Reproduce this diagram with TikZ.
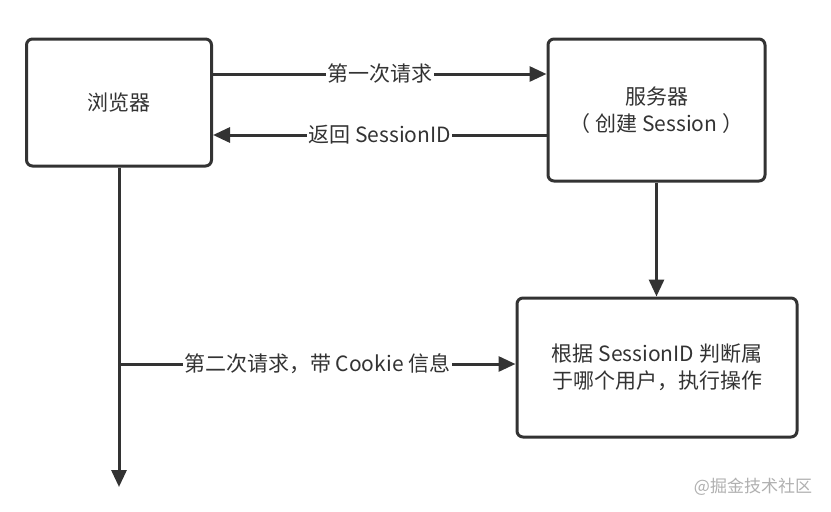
\documentclass[tikz,border=0pt]{standalone}
\usepackage{fontspec}
\newfontfamily\cjk{Noto Sans CJK SC}
\usetikzlibrary{arrows.meta}
\definecolor{ink}{HTML}{333333}
\definecolor{wm}{HTML}{B0B0B0}
\tikzset{
  box/.style={draw=ink, line width=3pt, rounded corners=6pt, fill=white, align=center,
    font=\cjk\fontsize{21pt}{27.5pt}\selectfont, text=ink, inner sep=0pt},
  lbl/.style={fill=white, inner sep=1.5pt, font=\cjk\fontsize{21pt}{27pt}\selectfont, text=ink},
  arr/.style={draw=ink, line width=3pt, -{Triangle[length=17pt,width=15pt]}},
  ln/.style={draw=ink, line width=3pt}
}
\begin{document}
\begin{tikzpicture}[x=1pt,y=-1pt]
\useasboundingbox[fill=white] (0,0) rectangle (831,512);
\node[box, minimum width=185pt, minimum height=127pt] (browser) at (119,102.5) {浏览器};
\node[box, minimum width=217pt, minimum height=142pt] (server) at (656.5,110) {服务器\\（ 创建 Session ）};
\node[box, minimum width=280pt, minimum height=139pt] (result) at (657,367.5) {根据 SessionID 判断属\\于哪个用户，执行操作};
\coordinate (bend) at (119,487);
\coordinate (fork) at (119,364);
\draw[arr] (browser.east |- 0,74) -- node[lbl] {第一次请求} (server.west |- 0,74);
\draw[arr] (server.west |- 0,135) -- node[lbl] {返回 SessionID} (browser.east |- 0,135);
\draw[arr] (server.south) -- (server.south |- result.north);
\draw[arr] (browser.south) -- (bend);
\draw[arr] (fork) -- node[lbl] {第二次请求，带 Cookie 信息} (result.west |- fork);
\node[font=\cjk\fontsize{17pt}{20pt}\selectfont, text=wm] (mark) at (753,487) {@掘金技术社区};
\end{tikzpicture}
\end{document}
